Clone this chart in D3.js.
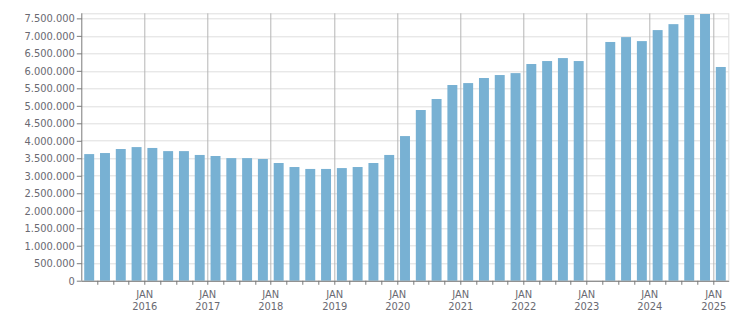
<!DOCTYPE html>
<html>
<head>
<meta charset="utf-8">
<script src="https://cdn.jsdelivr.net/npm/d3@7"></script>
<style>
  body { margin: 0; background: #fff; }
  text { font-family: "DejaVu Sans Condensed", "DejaVu Sans", sans-serif; font-size: 11px; fill: #6a6a72; }
  .grid line { stroke: #dedede; }
  .vgrid line { stroke: #b5b5b5; }
  .axis path, .axis line { stroke: #7a7a7a; }
</style>
</head>
<body>
<div id="chart"></div>
<script>
// quarterly values, Q1 2015 .. Q1 2025 (Q1 2023 has no value)
var quarters = ["2015Q1","2015Q2","2015Q3","2015Q4","2016Q1","2016Q2","2016Q3","2016Q4",
  "2017Q1","2017Q2","2017Q3","2017Q4","2018Q1","2018Q2","2018Q3","2018Q4",
  "2019Q1","2019Q2","2019Q3","2019Q4","2020Q1","2020Q2","2020Q3","2020Q4",
  "2021Q1","2021Q2","2021Q3","2021Q4","2022Q1","2022Q2","2022Q3","2022Q4",
  "2023Q1","2023Q2","2023Q3","2023Q4","2024Q1","2024Q2","2024Q3","2024Q4","2025Q1"];
var values = [3620000, 3650000, 3765000, 3820000, 3795000, 3705000, 3705000, 3595000,
  3565000, 3505000, 3505000, 3480000, 3365000, 3250000, 3195000, 3195000,
  3220000, 3250000, 3365000, 3595000, 4135000, 4880000, 5195000, 5595000,
  5650000, 5795000, 5880000, 5935000, 6195000, 6280000, 6365000, 6280000,
  null, 6825000, 6965000, 6850000, 7165000, 7335000, 7595000, 7625000, 6110000];
var years = ["2016","2017","2018","2019","2020","2021","2022","2023","2024","2025"];
var yTicks = d3.range(0, 7500001, 500000);

var margin = { top: 13.3, right: 22.3, bottom: 32.3, left: 81.3 },
  width = 751 - margin.left - margin.right,
  height = 313 - margin.top - margin.bottom;

var svg = d3.select("#chart").append("svg")
  .attr("width", 751)
  .attr("height", 313)
  .append("g")
  .attr("transform", "translate(" + margin.left + "," + margin.top + ")");

var locale = d3.formatLocale({ decimal: ",", thousands: ".", grouping: [3], currency: ["", ""] });
var fmt = locale.format(",d");

var x = d3.scaleBand()
  .domain(quarters)
  .range([0, width])
  .paddingInner(0.37)
  .paddingOuter(0.185);

// quarter boundaries for the time axis
var xq = d3.scaleLinear()
  .domain([0, quarters.length])
  .range([0, width]);

var y = d3.scaleLinear()
  .domain([0, 7645000])
  .range([height, 0]);

// horizontal grid
svg.append("g")
  .attr("class", "grid")
  .selectAll("line")
  .data(yTicks.concat([7645000]))
  .enter().append("line")
  .attr("x1", 0).attr("x2", width)
  .attr("y1", function (d) { return Math.round(y(d)) + 0.5; })
  .attr("y2", function (d) { return Math.round(y(d)) + 0.5; });

// right border
svg.append("line")
  .attr("x1", Math.round(width) + 0.5).attr("x2", Math.round(width) + 0.5)
  .attr("y1", 0).attr("y2", height)
  .attr("stroke", "#dedede");

// vertical grid at each January
var janIdx = years.map(function (d, i) { return (i + 1) * 4; });
svg.append("g")
  .attr("class", "vgrid")
  .selectAll("line")
  .data(janIdx)
  .enter().append("line")
  .attr("x1", function (d) { return Math.round(xq(d)) + 0.5; })
  .attr("x2", function (d) { return Math.round(xq(d)) + 0.5; })
  .attr("y1", 0).attr("y2", height);

// bars
svg.append("g")
  .selectAll("rect")
  .data(quarters.map(function (q, i) { return { q: q, v: values[i] }; })
    .filter(function (d) { return d.v !== null; }))
  .enter().append("rect")
  .attr("x", function (d) { return x(d.q); })
  .attr("width", x.bandwidth())
  .attr("y", function (d) { return y(d.v); })
  .attr("height", function (d) { return height - y(d.v); })
  .attr("fill", "#78b1d3");

// y axis
var yAxis = d3.axisLeft(y)
  .tickValues(yTicks)
  .tickSize(5)
  .tickPadding(2)
  .tickFormat(fmt);

svg.append("g")
  .attr("class", "y axis")
  .attr("transform", "translate(0.5,0)")
  .call(yAxis)
  .call(function (g) { g.select(".domain").attr("d", "M0,0V" + height); });

// x axis
var xAxis = d3.axisBottom(xq)
  .tickValues(d3.range(1, quarters.length))
  .tickSize(4)
  .tickSizeOuter(0)
  .tickFormat(function (d) { return d % 4 === 0 ? "JAN" : ""; });

var gx = svg.append("g")
  .attr("class", "x axis")
  .attr("transform", "translate(0," + (Math.round(height) + 0.5) + ")")
  .call(xAxis);

gx.selectAll(".tick").attr("transform", function (d) {
  return "translate(" + (Math.round(xq(d)) + 0.5) + ",0)";
});

gx.selectAll(".tick text")
  .attr("y", 9)
  .each(function (d) {
    if (d % 4 !== 0) return;
    d3.select(this).append("tspan")
      .attr("x", 0)
      .attr("dy", "1.15em")
      .text(years[d / 4 - 1]);
  });
</script>
</body>
</html>
